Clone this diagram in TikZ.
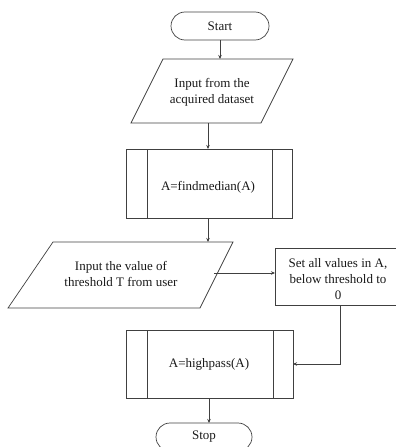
\documentclass[tikz,border=0pt]{standalone}
\usepackage{fontspec}
\setmainfont{Liberation Serif}
\usetikzlibrary{arrows.meta}
\begin{document}
\begin{tikzpicture}[x=1pt,y=-1pt,
  ln/.style={draw=black!75,line width=0.7pt},
  arr/.style={ln,-{Stealth[length=4pt,width=3.5pt]}},
  txt/.style={font=\fontsize{13}{16}\selectfont,align=center,text=black!90,inner sep=0pt}]
\useasboundingbox (0,0) rectangle (396,447);
% Start terminal
\draw[ln] (185,12) -- (255,12) arc[start angle=-90,end angle=90,radius=14] -- (185,40) arc[start angle=90,end angle=270,radius=14] -- cycle;
\node[txt] (start) at (220,26) {Start};
\coordinate (startb) at (220,40);
% Parallelogram 1
\draw[ln] (163,59) -- (293,59) -- (261,123) -- (131,123) -- cycle;
\node[txt] (in1) at (212,92) {Input from the\\acquired dataset};
\coordinate (in1t) at (220,59);
\coordinate (in1b) at (208,123);
% Box 1
\draw[ln] (126,149) rectangle (292,218);
\draw[ln] (147,149) -- (147,218) (272,149) -- (272,218);
\node[txt] (fm) at (208,187) {A=findmedian(A)};
\coordinate (fmt) at (208,149);
\coordinate (fmb) at (208,218);
% Parallelogram 2
\draw[ln] (53,242) -- (233,242) -- (200,308) -- (8,308) -- cycle;
\node[txt] (in2) at (121,274) {Input the value of\\threshold T from user};
\coordinate (in2t) at (208,242);
\coordinate (in2r) at (214,273);
% Set box
\draw[ln] (405,248) -- (275,248) -- (275,305) -- (405,305);
\node[txt] (set) at (338,279) {Set all values in A,\\below threshold to\\0};
\coordinate (setl) at (275,273);
\coordinate (setb) at (340,305);
% Box 2
\draw[ln] (126,330) rectangle (293,398);
\draw[ln] (147,330) -- (147,398) (273,330) -- (273,398);
\node[txt] (hp) at (209,364) {A=highpass(A)};
\coordinate (hpr) at (293,364);
\coordinate (hpb) at (209,398);
% Stop terminal
\draw[ln] (170,423) -- (238,423) arc[start angle=-90,end angle=90,radius=14] -- (170,451) arc[start angle=90,end angle=270,radius=14] -- cycle;
\node[txt] (stop) at (204,437) {Stop};
\coordinate (stopt) at (209,423);
% connectors
\draw[arr] (startb) -- (in1t);
\draw[arr] (in1b) -- (fmt);
\draw[arr] (fmb) -- (in2t);
\draw[arr] (in2r) -- (setl);
\draw[arr] (setb) |- (hpr);
\draw[arr] (hpb) -- (stopt);
\end{tikzpicture}
\end{document}
